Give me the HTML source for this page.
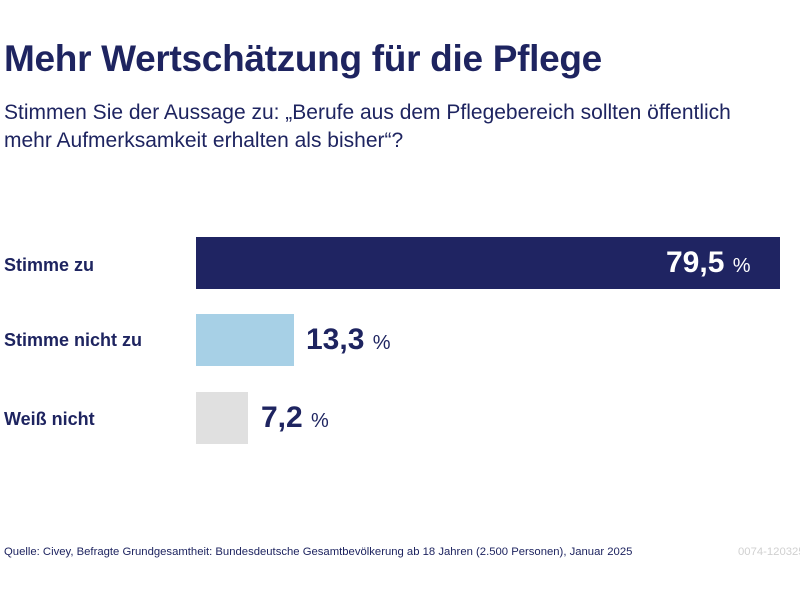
<!DOCTYPE html>
<html><head><meta charset="utf-8"><style>
body{margin:0;width:800px;height:600px;background:#fff;font-family:"Liberation Sans",sans-serif;color:#1e2460;position:relative;overflow:hidden}
.a{position:absolute;white-space:nowrap}
h1{position:absolute;left:4px;top:38px;margin:0;font-size:37px;font-weight:bold;letter-spacing:-0.3px}
.sub{left:4px;top:99px;font-size:21px;line-height:28px;white-space:normal;width:760px}
.lab{left:4px;font-size:18px;font-weight:bold}
.bar{position:absolute;left:196px;height:52px}
.v{font-size:30px;font-weight:bold}
.v span{font-size:20px;font-weight:normal}
</style></head><body>
<h1>Mehr Wertschätzung für die Pflege</h1>
<div class="a sub">Stimmen Sie der Aussage zu: „Berufe aus dem Pflegebereich sollten öffentlich mehr Aufmerksamkeit erhalten als bisher“?</div>
<div class="a lab" style="top:255px">Stimme zu</div>
<div class="a lab" style="top:330px">Stimme nicht zu</div>
<div class="a lab" style="top:409px">Weiß nicht</div>
<div class="bar" style="top:237px;width:584px;background:#1f2462"></div>
<div class="bar" style="top:314px;width:98px;background:#a7d0e6"></div>
<div class="bar" style="top:392px;width:52px;background:#e0e0e0"></div>
<div class="a v" style="left:666px;top:246px;color:#fff">79,5 <span>%</span></div>
<div class="a v" style="left:306px;top:323px">13,3 <span>%</span></div>
<div class="a v" style="left:261px;top:401px">7,2 <span>%</span></div>
<div class="a" style="left:4px;top:546px;font-size:11.3px">Quelle: Civey, Befragte Grundgesamtheit: Bundesdeutsche Gesamtbevölkerung ab 18 Jahren (2.500 Personen), Januar 2025</div>
<div class="a" style="left:738px;top:546px;font-size:11.3px;color:#d0d0d0">0074-120325</div>
</body></html>
